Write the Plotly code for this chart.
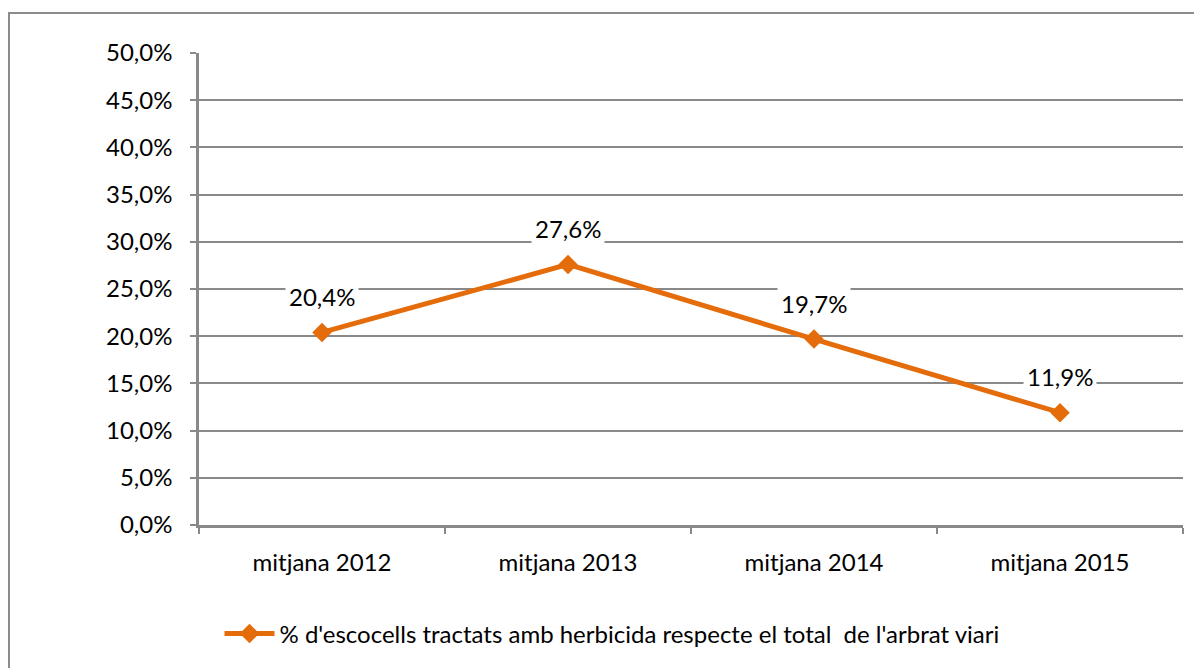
import plotly.graph_objects as go

categories = ["mitjana 2012", "mitjana 2013", "mitjana 2014", "mitjana 2015"]
values = [0.204, 0.276, 0.197, 0.119]
series_name = "% d'escocells tractats amb herbicida respecte el total  de l'arbrat viari"

OFF = 8  # page body margin
W, H = 1202 - OFF, 668 - OFF
L, R, T, B = 199 - OFF, 1183 - OFF, 53 - OFF, 525 - OFF
pw, ph = R - L, B - T

def px(x):
    return (x - OFF - L) / pw

def py(y):
    return (B - (y - OFF)) / ph

orange = "#E46C0A"
gray = "#898989"
font_family = "Lato, 'Open Sans', sans-serif"
fs = 24

fig = go.Figure()
fig.add_trace(go.Scatter(
    x=categories, y=values, mode="lines+markers", name=series_name,
    line=dict(color=orange, width=5),
    marker=dict(symbol="diamond", size=15, color=orange),
))

for c, v in zip(categories, values):
    fig.add_annotation(
        x=c, y=v, xref="x", yref="y",
        text=f"{v*100:.1f}%".replace(".", ","),
        showarrow=False, yshift=36, bgcolor="white",
        font=dict(size=fs, color="black", family=font_family),
        borderpad=3,
    )

fig.add_shape(type="rect", xref="paper", yref="paper",
              x0=px(9), x1=px(1230), y0=py(700), y1=py(13),
              line=dict(color="#8c8c8c", width=2), layer="below")

fig.update_layout(
    width=W, height=H,
    margin=dict(l=L, r=W - R, t=T, b=H - B),
    paper_bgcolor="white", plot_bgcolor="white",
    separators=", ",
    font=dict(family=font_family, size=fs, color="black"),
    showlegend=True,
    legend=dict(orientation="h", x=px(612), xanchor="center", y=py(634), yanchor="middle",
                font=dict(size=fs), itemwidth=50, bgcolor="rgba(0,0,0,0)"),
    xaxis=dict(
        type="category", range=[-0.5, 3.5],
        showline=True, linecolor=gray, linewidth=2.5,
        ticks="outside", tickson="boundaries", ticklen=6, tickcolor=gray, tickwidth=1.5,
        showgrid=False, ticklabelstandoff=14,
    ),
    yaxis=dict(
        range=[0, 0.5], dtick=0.05, tickformat=".1%",
        showline=True, linecolor=gray, linewidth=2.5,
        ticks="outside", ticklen=6, tickcolor=gray, tickwidth=1.5,
        showgrid=True, gridcolor=gray, gridwidth=1.5,
        zeroline=False, ticklabelstandoff=13,
    ),
)

fig.write_html("out.html")
